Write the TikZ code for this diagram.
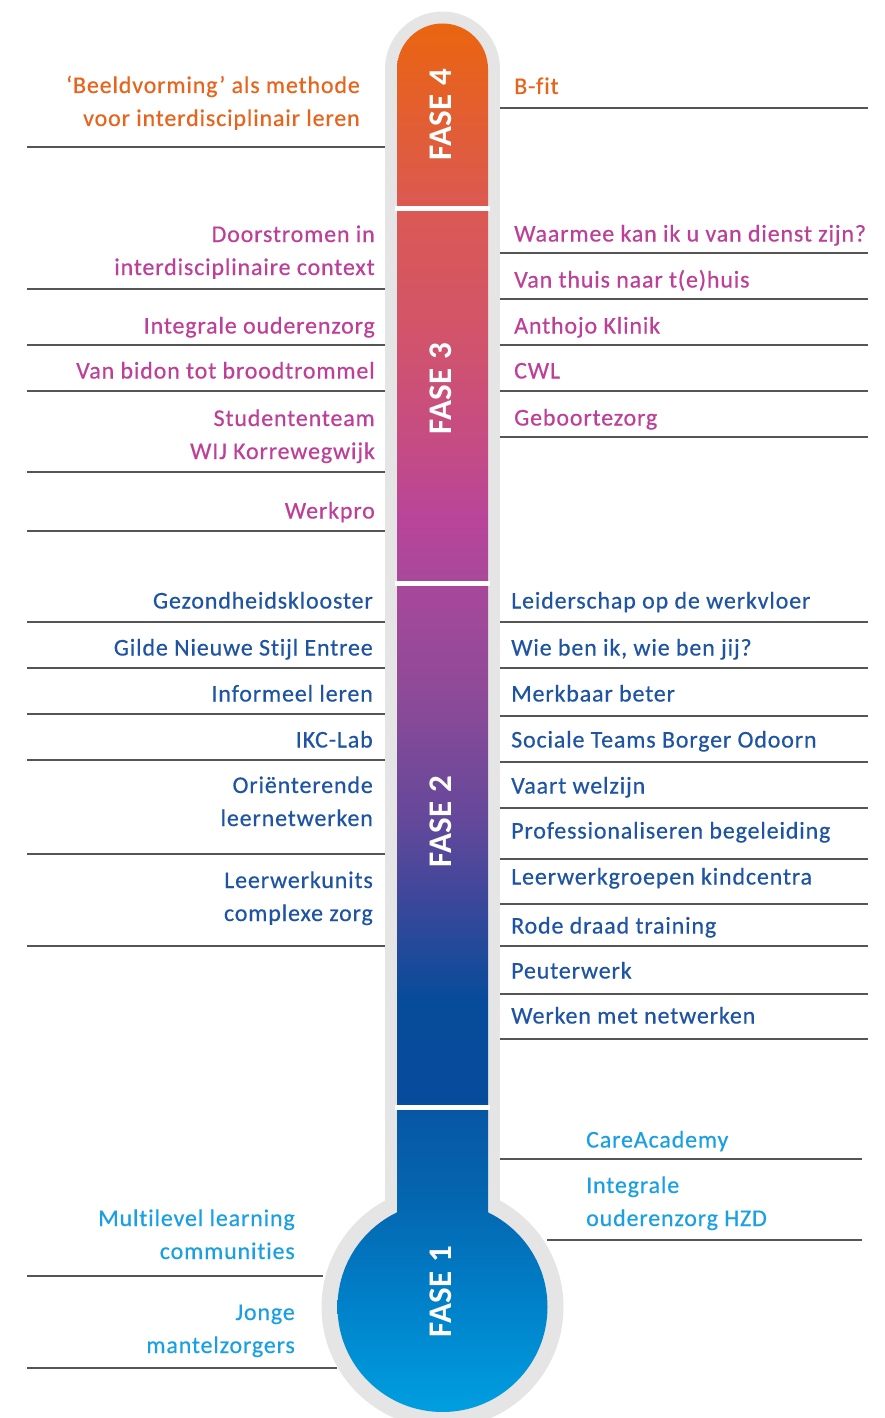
\documentclass[tikz,border=0pt]{standalone}
\usepackage{fontspec}
\setmainfont{Carlito}
\newfontfamily\labfont{Carlito}[LetterSpace=3.5, FakeBold=0.5, Ligatures=NoCommon]
\newfontfamily\fasefont{Carlito}[LetterSpace=2]
\definecolor{rulegray}{HTML}{555555}
\definecolor{glassgray}{HTML}{E5E5E5}
\definecolor{cfour}{HTML}{E8641C}
\definecolor{cthree}{HTML}{BD3F97}
\definecolor{ctwo}{HTML}{1E54A3}
\definecolor{cone}{HTML}{1AA0E2}
\definecolor{gA}{HTML}{009FE0}
\definecolor{gB}{HTML}{0080C8}
\definecolor{gC}{HTML}{0466B0}
\definecolor{gD}{HTML}{0757A5}
\definecolor{gE}{HTML}{074C9C}
\definecolor{gF}{HTML}{074B9B}
\definecolor{gG}{HTML}{1C4A9A}
\definecolor{gH}{HTML}{3C479A}
\definecolor{gI}{HTML}{64489A}
\definecolor{gJ}{HTML}{8C4A98}
\definecolor{gK}{HTML}{A8489A}
\definecolor{gL}{HTML}{B8459A}
\definecolor{gM}{HTML}{C44B85}
\definecolor{gN}{HTML}{D2546A}
\definecolor{gO}{HTML}{DB5953}
\definecolor{gP}{HTML}{E25E32}
\definecolor{gQ}{HTML}{EA650F}
\pgfdeclareverticalshading{thermo}{100bp}{%
color(0bp)=(gA); color(25bp)=(gA); color(29.03bp)=(gB); color(32.63bp)=(gC);
color(35.80bp)=(gD); color(36.23bp)=(gE); color(39.83bp)=(gF); color(41.27bp)=(gG);
color(43.43bp)=(gH); color(46.31bp)=(gI); color(50.63bp)=(gJ); color(54.84bp)=(gK);
color(57.11bp)=(gL); color(59.63bp)=(gM); color(63.95bp)=(gN); color(68.34bp)=(gO);
color(71.51bp)=(gP); color(75bp)=(gQ); color(100bp)=(gQ)}
\newcommand\rtwo[2]{\begin{tabular}[b]{@{}r@{}}#1\\#2\end{tabular}}
\newcommand\ltwo[2]{\begin{tabular}[b]{@{}l@{}}#1\\#2\end{tabular}}
\begin{document}
\begin{tikzpicture}[x=1pt,y=-1pt,
  rule/.style={draw=rulegray, line width=2pt},
  lt/.style={anchor=base east, inner sep=0pt, font=\labfont\fontsize{24}{33}\selectfont},
  rt/.style={anchor=base west, inner sep=0pt, font=\labfont\fontsize{24}{33}\selectfont},
  fase/.style={rotate=90, text=white, inner sep=0pt, font=\fasefont\bfseries\fontsize{33}{33}\selectfont},
  sepline/.style={draw=white, line width=5pt}]
\useasboundingbox (0,0) rectangle (884,1418);
% glass
\fill[glassgray] (385,69) rectangle (500,1250);
\fill[glassgray] (442.5,69) circle[radius=57.5pt];
\fill[glassgray] (442.5,1307) circle[radius=121pt];
% liquid
\begin{scope}
  \clip (397,69) rectangle (488,1250);
  \shade[shading=thermo] (330,23.5) rectangle (555,1412);
\end{scope}
\begin{scope}
  \clip (442.5,69) circle[radius=45.5pt];
  \shade[shading=thermo] (330,23.5) rectangle (555,1412);
\end{scope}
\begin{scope}
  \clip (442.5,1307) circle[radius=105pt];
  \shade[shading=thermo] (330,23.5) rectangle (555,1412);
\end{scope}
% separators
\draw[sepline] (395,208) -- (490,208);
\draw[sepline] (395,583) -- (490,583);
\draw[sepline] (395,1107) -- (490,1107);
% phase labels
\node[fase] (f4) at (441,115) {FASE 4};
\node[fase] (f3) at (441,389) {FASE 3};
\node[fase] (f2) at (441,822) {FASE 2};
\node[fase] (f1) at (441,1292) {FASE 1};
% rules left
\foreach \y in {147,289,345,391,472,531,622,668,714,760,854,946}
  \draw[rule] (27,\y) -- (385,\y);
\draw[rule] (27,1276) -- (323,1276);
\draw[rule] (27,1368) -- (337,1368);
% rules right
\foreach \y in {108,253,299,345,391,437,622,668,716,762,808,859,904,946,994,1039}
  \draw[rule] (500,\y) -- (868,\y);
\draw[rule] (500,1159) -- (862,1159);
\draw[rule] (547,1240) -- (862,1240);
% FASE 4 texts
\node[lt, text=cfour] (a1) at (360,126) {\rtwo{‘Beeldvorming’ als methode}{voor interdisciplinair leren}};
\node[rt, text=cfour] (b1) at (514,94) {B-fit};
% FASE 3 texts
\node[lt, text=cthree] (a2) at (375,275) {\rtwo{Doorstromen in}{interdisciplinaire context}};
\node[lt, text=cthree] (a3) at (375,333.5) {Integrale ouderenzorg};
\node[lt, text=cthree] (a4) at (375,378.5) {Van bidon tot broodtrommel};
\node[lt, text=cthree] (a5) at (375,459) {\rtwo{Studententeam}{WIJ Korrewegwijk}};
\node[lt, text=cthree] (a6) at (375,518.5) {Werkpro};
\node[rt, text=cthree] (b2) at (514,241.5) {Waarmee kan ik u van dienst zijn?};
\node[rt, text=cthree] (b3) at (514,287.5) {Van thuis naar t(e)huis};
\node[rt, text=cthree] (b4) at (514,333.5) {Anthojo Klinik};
\node[rt, text=cthree] (b5) at (514,378.5) {CWL};
\node[rt, text=cthree] (b6) at (514,425.5) {Geboortezorg};
% FASE 2 texts
\node[lt, text=ctwo] (a7) at (373,608.5) {Gezondheidsklooster};
\node[lt, text=ctwo] (a8) at (373,655.5) {Gilde Nieuwe Stijl Entree};
\node[lt, text=ctwo] (a9) at (373,701.5) {Informeel leren};
\node[lt, text=ctwo] (a10) at (373,747.5) {IKC-Lab};
\node[lt, text=ctwo] (a11) at (373,826) {\rtwo{Oriënterende}{leernetwerken}};
\node[lt, text=ctwo] (a12) at (373,921) {\rtwo{Leerwerkunits}{complexe zorg}};
\node[rt, text=ctwo] (b7) at (511,608.5) {Leiderschap op de werkvloer};
\node[rt, text=ctwo] (b8) at (511,655.5) {Wie ben ik, wie ben jij?};
\node[rt, text=ctwo] (b9) at (511,701.5) {Merkbaar beter};
\node[rt, text=ctwo] (b10) at (511,747.5) {Sociale Teams Borger Odoorn};
\node[rt, text=ctwo] (b11) at (511,793.5) {Vaart welzijn};
\node[rt, text=ctwo] (b12) at (511,838.5) {Professionaliseren begeleiding};
\node[rt, text=ctwo] (b13) at (511,884.5) {Leerwerkgroepen kindcentra};
\node[rt, text=ctwo] (b14) at (511,933.5) {Rode draad training};
\node[rt, text=ctwo] (b15) at (511,978.5) {Peuterwerk};
\node[rt, text=ctwo] (b16) at (511,1023.5) {Werken met netwerken};
% FASE 1 texts
\node[lt, text=cone] (a13) at (295,1259) {\rtwo{Multilevel learning}{communities}};
\node[lt, text=cone] (a14) at (295,1353) {\rtwo{Jonge}{mantelzorgers}};
\node[rt, text=cone] (b17) at (586,1147.5) {CareAcademy};
\node[rt, text=cone] (b18) at (586,1226) {\ltwo{Integrale}{ouderenzorg HZD}};
\end{tikzpicture}
\end{document}
